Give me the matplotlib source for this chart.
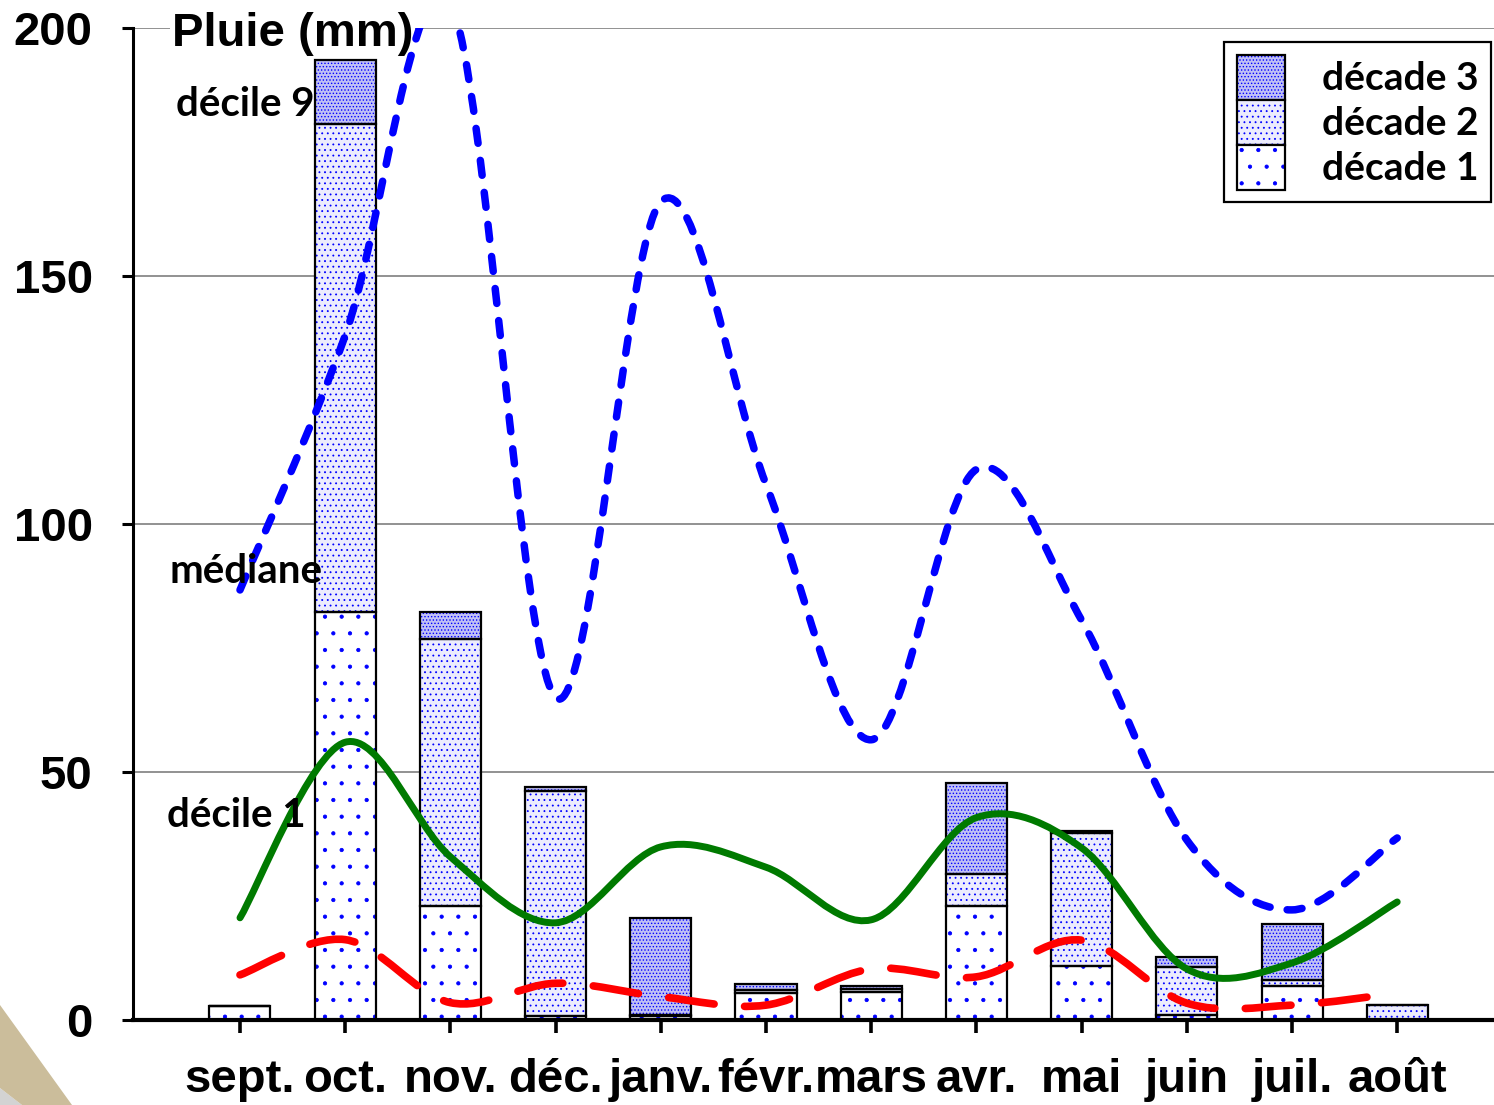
import numpy as np
import matplotlib
matplotlib.use('Agg')
import matplotlib.pyplot as plt
from matplotlib.path import Path
from matplotlib.patches import PathPatch, Patch, Polygon
from matplotlib.legend_handler import HandlerTuple

# ---------------- data ----------------
months = ['sept.', 'oct.', 'nov.', 'déc.', 'janv.', 'févr.', 'mars',
          'avr.', 'mai', 'juin', 'juil.', 'août']
decade1 = [2.8, 82.3, 23.0, 0.8, 0.9, 5.4, 5.6, 23.0, 10.8, 1.0, 6.9, 0.0]
decade2 = [0.0, 98.3, 53.9, 45.4, 0.2, 0.6, 0.6, 6.4, 27.0, 9.6, 1.2, 3.0]
decade3 = [0.0, 12.9, 5.3, 0.8, 19.5, 1.3, 0.7, 18.4, 0.3, 2.2, 11.2, 0.0]
decile9 = [86.7, 138.0, 205.0, 65.0, 165.0, 108.0, 56.5, 111.0, 80.6, 36.3, 22.2, 36.7]
mediane = [20.6, 56.0, 32.9, 19.6, 34.9, 30.8, 20.2, 40.8, 34.7, 10.3, 11.5, 23.8]
decile1 = [9.1, 16.2, 3.5, 7.4, 4.7, 3.0, 10.3, 8.7, 16.1, 3.4, 3.0, 5.4]
yticks = [0, 50, 100, 150, 200]
legend_labels = ['décade 3', 'décade 2', 'décade 1']

TICK_FONT = ['Liberation Sans', 'DejaVu Sans']
NOTE_FONT = ['Lato', 'DejaVu Sans']

plt.rcParams['hatch.linewidth'] = 0.6

fig = plt.figure(figsize=(14.94, 11.05), dpi=100)
W, H = 1494, 1105
ax = fig.add_axes([133 / W, 85 / H, 1 - 133 / W, (1020 - 28) / H])

x = np.arange(len(months))
width = 0.58

# bar styles (face, hatch)
styles = {
    1: ('white', '.'),
    2: ('#ececfd', '...'),
    3: ('#c0c0f5', '.....'),
}

b0 = np.zeros(len(months))
series = [(1, np.array(decade1)), (2, np.array(decade2)), (3, np.array(decade3))]
for k, vals in series:
    fc, h = styles[k]
    ax.bar(x, vals, width, bottom=b0, facecolor=fc, hatch=h,
           edgecolor='blue', linewidth=0, zorder=2)
    ax.bar(x, vals, width, bottom=b0, fill=False, edgecolor='black',
           linewidth=1.6, zorder=2.1)
    b0 = b0 + vals


def smooth_path(xs, ys):
    xs = np.asarray(xs, float)
    ys = np.asarray(ys, float)
    n = len(xs)
    verts = [(xs[0], ys[0])]
    codes = [Path.MOVETO]
    for i in range(n - 1):
        i0 = max(i - 1, 0)
        i3 = min(i + 2, n - 1)
        c1 = (xs[i] + (xs[i + 1] - xs[i0]) / 6, ys[i] + (ys[i + 1] - ys[i0]) / 6)
        c2 = (xs[i + 1] - (xs[i3] - xs[i]) / 6, ys[i + 1] - (ys[i3] - ys[i]) / 6)
        verts += [c1, c2, (xs[i + 1], ys[i + 1])]
        codes += [Path.CURVE4] * 3
    return Path(verts, codes)


line_specs = [
    (decile9, '#0000ff', 5.4, (0, (2.0, 2.3))),
    (mediane, '#007a00', 5.0, '-'),
    (decile1, '#ff0000', 5.5, (0, (6.0, 4.0))),
]
for vals, col, lw, ls in line_specs:
    pp = PathPatch(smooth_path(x, vals), fill=False, edgecolor=col,
                   linewidth=lw, linestyle=ls, capstyle='round',
                   joinstyle='round', zorder=3)
    ax.add_patch(pp)

ax.set_xlim(-1.017, 11.92)
ax.set_ylim(0, 200)
ax.set_yticks(yticks)
ax.set_xticks(x, months)
ax.set_axisbelow(True)
ax.yaxis.grid(True, color='#7f7f7f', linewidth=1.2)
ax.xaxis.grid(False)
for s in ['top', 'right']:
    ax.spines[s].set_visible(False)
ax.spines['left'].set_linewidth(2.2)
ax.spines['bottom'].set_linewidth(3.0)
ax.tick_params(axis='y', direction='out', length=8, width=2.2, pad=21)
ax.tick_params(axis='x', direction='out', length=9, width=2.6, pad=18)
for lab in ax.get_yticklabels():
    lab.set_fontfamily(TICK_FONT)
    lab.set_fontweight('bold')
    lab.set_fontsize(34)
for lab in ax.get_xticklabels():
    lab.set_fontfamily(TICK_FONT)
    lab.set_fontweight('bold')
    lab.set_fontsize(34)

# title-like label on the axis
ax.text(-0.65, 198.8, 'Pluie (mm)', fontfamily=TICK_FONT, fontweight='bold',
        fontsize=34, ha='left', va='center', zorder=1.5, clip_on=False,
        bbox=dict(facecolor='white', edgecolor='none', pad=1))

note_kw = dict(fontfamily=NOTE_FONT, fontweight='bold', fontsize=29,
               ha='left', va='center', zorder=5)
ax.text(-0.61, 184.5, 'décile 9', **note_kw)
ax.text(-0.67, 90.5, 'médiane', **note_kw)
ax.text(-0.69, 41.3, 'décile 1', **note_kw)

# legend
handles = []
for k in (3, 2, 1):
    fc, h = styles[k]
    handles.append((Patch(facecolor=fc, hatch=h, edgecolor='blue', linewidth=0),
                    Patch(fill=False, edgecolor='black', linewidth=1.6)))
leg = ax.legend(handles, legend_labels,
                handler_map={tuple: HandlerTuple(ndivide=1, pad=0)},
                loc='upper right', bbox_to_anchor=(1491 / W, 1 - 42 / H),
                bbox_transform=fig.transFigure, borderaxespad=0,
                prop=dict(family=NOTE_FONT, weight='bold', size=28),
                handlelength=1.23, handleheight=1.40, labelspacing=0.0,
                handletextpad=0.95, borderpad=0.33, fancybox=False,
                framealpha=1, edgecolor='black')
leg.get_frame().set_linewidth(1.6)
leg.set_zorder(6)

# slide decoration in the bottom-left corner
def fp(px, py):
    return (px / W, 1 - py / H)

fig.patches.append(Polygon([fp(0, 1088), fp(22, 1105), fp(0, 1105)],
                           closed=True, transform=fig.transFigure,
                           facecolor='#d3d3d3', edgecolor='none'))
fig.patches.append(Polygon([fp(0, 1005), fp(72, 1105), fp(22, 1105), fp(0, 1088)],
                           closed=True, transform=fig.transFigure,
                           facecolor='#cbbd9b', edgecolor='none'))

fig.savefig('out.png', dpi=100)
